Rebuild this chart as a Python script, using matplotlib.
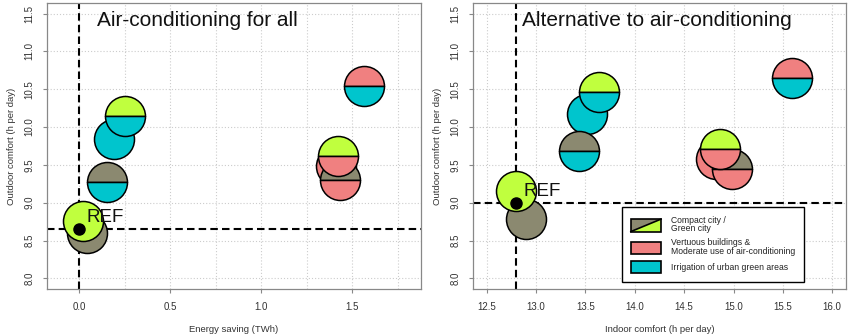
import matplotlib
matplotlib.use("Agg")
import matplotlib.pyplot as plt
from matplotlib.patches import Rectangle, Polygon
from matplotlib.lines import Line2D
from matplotlib.legend_handler import HandlerBase

plt.rcParams['font.family'] = ['Liberation Sans', 'DejaVu Sans']

# couleurs des mesures
colors = {
    'compact': '#8B8970',
    'green': '#C0FF3E',
    'buildings': '#F08080',
    'irrigation': '#00C5CD',
}

# scénarios : moitié haute / moitié basse (None = cercle plein)
top_part = ['compact', 'green', 'irrigation', 'compact', 'green',
            'buildings', 'compact', 'green', 'buildings']
bottom_part = [None, None, None, 'irrigation', 'irrigation',
               None, 'buildings', 'buildings', 'irrigation']

# panneau gauche : climatisation pour tous
energy_saving = [0.045, 0.024, 0.191, 0.151, 0.251, 1.41, 1.43, 1.423, 1.561]
outdoor_left = [8.60, 8.76, 9.84, 9.27, 10.15, 9.48, 9.30, 9.62, 10.54]
ref_left = (0.0, 8.65)

# panneau droit : alternative à la climatisation
indoor_comfort = [12.90, 12.80, 13.52, 13.43, 13.64, 14.82, 14.98, 14.86, 15.59]
outdoor_right = [8.78, 9.15, 10.17, 9.68, 10.47, 9.58, 9.45, 9.71, 10.65]
ref_right = (12.8, 9.0)

legend_labels = ['Compact city /\nGreen city',
                 'Vertuous buildings &\nModerate use of air-conditioning',
                 'Irrigation of urban green areas']


class DiagHandler(HandlerBase):
    def create_artists(self, legend, orig_handle, xdescent, ydescent,
                       width, height, fontsize, trans):
        x0, y0 = -xdescent, -ydescent
        up = Polygon([[x0, y0], [x0, y0 + height], [x0 + width, y0 + height]],
                     closed=True, facecolor=colors['compact'], edgecolor='none',
                     transform=trans)
        low = Polygon([[x0, y0], [x0 + width, y0], [x0 + width, y0 + height]],
                      closed=True, facecolor=colors['green'], edgecolor='none',
                      transform=trans)
        diag = Line2D([x0, x0 + width], [y0, y0 + height], color='black',
                      lw=1.2, transform=trans)
        box = Rectangle((x0, y0), width, height, facecolor='none',
                        edgecolor='black', lw=1.2, transform=trans)
        return [up, low, diag, box]


def draw_panel(ax, xs, ys, ref, xlim, xticks, xgrid, xlabel, title, title_x):
    ax.set_xlim(*xlim)
    ax.set_ylim(7.86, 11.64)
    for xg in xgrid:
        ax.axvline(xg, color='#cccccc', lw=0.8, ls=(0, (1, 1.8)), zorder=0)
    for yg in [8.0, 8.5, 9.0, 9.5, 10.0, 10.5, 11.0, 11.5]:
        ax.axhline(yg, color='#cccccc', lw=0.8, ls=(0, (1, 1.8)), zorder=0)

    ax.axvline(ref[0], color='black', lw=1.5, ls=(0, (3.6, 2)), zorder=1)
    ax.axhline(ref[1], color='black', lw=1.5, ls=(0, (3.6, 2)), zorder=1)

    for i, (x, y) in enumerate(zip(xs, ys)):
        top = colors[top_part[i]]
        if bottom_part[i] is None:
            ax.plot(x, y, marker='o', ms=28.8, mfc=top, mec='black', mew=1.1,
                    zorder=2 + i)
        else:
            ax.plot(x, y, marker='o', ms=28.8, fillstyle='top', mfc=top,
                    mfcalt=colors[bottom_part[i]], mec='black', mew=1.1,
                    zorder=2 + i)

    ax.plot(*ref, marker='o', ms=8, color='black', zorder=20)
    ax.annotate('REF', ref, xytext=(5, 5), textcoords='offset points',
                fontsize=13.5, color='#111', zorder=21)
    ax.text(title_x, 11.33, title, fontsize=15, color='#111',
            va='baseline', ha='left')

    ax.set_xticks(xticks)
    ax.set_xticklabels([f'{t:.1f}' for t in xticks])
    yt = [8.0, 8.5, 9.0, 9.5, 10.0, 10.5, 11.0, 11.5]
    ax.set_yticks(yt)
    ax.set_yticklabels([f'{t:.1f}' for t in yt], rotation=90, va='center')
    ax.tick_params(direction='out', length=3, width=0.8, color='#888',
                   labelsize=7, labelcolor='#333', pad=6)
    for s in ax.spines.values():
        s.set_color('#888')
        s.set_linewidth(0.9)
    ax.set_xlabel(xlabel, fontsize=6.8, color='#333', labelpad=10)
    ax.set_ylabel('Outdoor comfort (h per day)', fontsize=6.8, color='#333',
                  labelpad=6)


fig = plt.figure(figsize=(8.5, 3.36), dpi=100)
ax1 = fig.add_axes([47 / 850, 47 / 336, 374 / 850, 286 / 336])
ax2 = fig.add_axes([473 / 850, 47 / 336, 373 / 850, 286 / 336])

draw_panel(ax1, energy_saving, outdoor_left, ref_left, (-0.176, 1.876),
           [0.0, 0.5, 1.0, 1.5], [0.25 * k for k in range(8)],
           'Energy saving (TWh)', 'Air-conditioning for all', 0.1)
draw_panel(ax2, indoor_comfort, outdoor_right, ref_right, (12.36, 16.14),
           [12.5 + 0.5 * k for k in range(8)], [12.5 + 0.5 * k for k in range(8)],
           'Indoor comfort (h per day)', 'Alternative to air-conditioning', 12.86)

handles = [Rectangle((0, 0), 1, 1),
           Rectangle((0, 0), 1, 1, facecolor=colors['buildings'],
                     edgecolor='black', lw=1.2),
           Rectangle((0, 0), 1, 1, facecolor=colors['irrigation'],
                     edgecolor='black', lw=1.2)]
leg = ax2.legend(handles, legend_labels, loc='upper left',
                 bbox_to_anchor=(0.399, 0.287), borderaxespad=0,
                 handler_map={handles[0]: DiagHandler()},
                 fontsize=6.2, handlelength=3.5, handleheight=1.85,
                 handletextpad=1.15, borderpad=1.05, labelspacing=0.6,
                 fancybox=False, framealpha=1, edgecolor='black')
leg.get_frame().set_linewidth(1.0)
leg.set_zorder(30)
for t in leg.get_texts():
    t.set_linespacing(0.9)
    t.set_color('#222')

fig.savefig('out.png', dpi=100)
